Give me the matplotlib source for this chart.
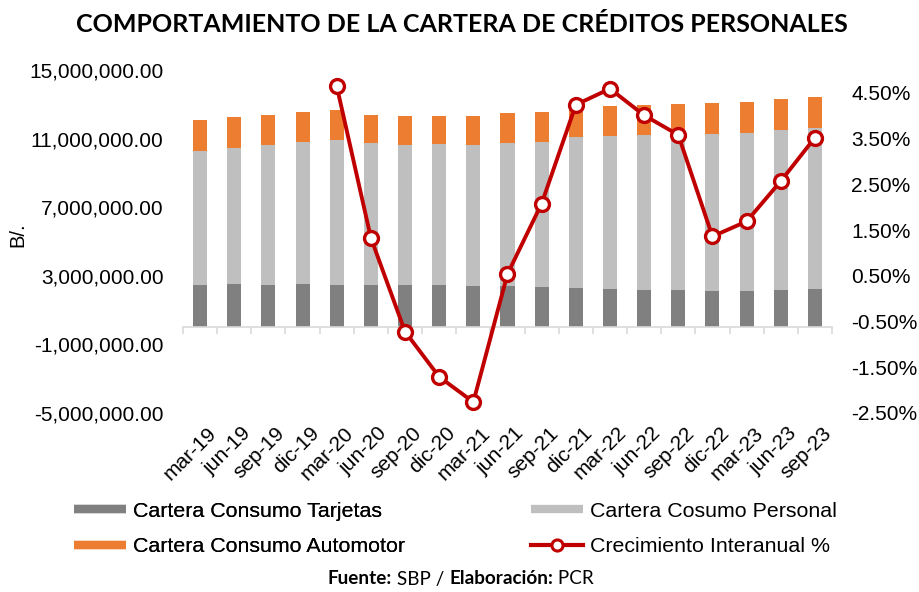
import numpy as np
import matplotlib
matplotlib.use("Agg")
import matplotlib.pyplot as plt
import matplotlib.transforms as mtransforms
from matplotlib.lines import Line2D

# datos (B/. y %)
periodos = ["mar-19", "jun-19", "sep-19", "dic-19", "mar-20", "jun-20", "sep-20", "dic-20",
            "mar-21", "jun-21", "sep-21", "dic-21", "mar-22", "jun-22", "sep-22", "dic-22",
            "mar-23", "jun-23", "sep-23"]
tarjetas = [2.46, 2.52, 2.46, 2.52, 2.46, 2.44, 2.44, 2.44, 2.40, 2.40, 2.35, 2.29,
            2.23, 2.17, 2.17, 2.13, 2.13, 2.17, 2.23]
total_personal = [10.30, 10.45, 10.63, 10.78, 10.92, 10.72, 10.63, 10.69, 10.63, 10.72, 10.82, 11.11,
                  11.15, 11.21, 11.23, 11.27, 11.35, 11.50, 11.64]
total_cartera = [12.08, 12.24, 12.38, 12.57, 12.67, 12.38, 12.32, 12.34, 12.34, 12.47, 12.57, 12.85,
                 12.90, 12.96, 13.02, 13.06, 13.13, 13.29, 13.44]
crecimiento = [np.nan, np.nan, np.nan, np.nan, 4.65, 1.33, -0.72, -1.71, -2.26, 0.54, 2.08, 4.24,
               4.59, 4.01, 3.58, 1.36, 1.69, 2.57, 3.52]

tarjetas = np.array(tarjetas) * 1e6
personal = np.array(total_personal) * 1e6 - tarjetas
automotor = (np.array(total_cartera) - np.array(total_personal)) * 1e6

c_tar = "#808080"
c_per = "#BFBFBF"
c_aut = "#ED7D31"
c_red = "#C00000"
arial = "Liberation Sans"

fig = plt.figure(figsize=(9.2, 5.92), dpi=100)
ax = fig.add_axes([183 / 920, 1 - 413 / 592, (832 - 183) / 920, (413 - 70) / 592])
x = np.arange(len(periodos))
w = 0.41
ax.bar(x, tarjetas, w, color=c_tar, zorder=2)
ax.bar(x, personal, w, bottom=tarjetas, color=c_per, zorder=2)
ax.bar(x, automotor, w, bottom=tarjetas + personal, color=c_aut, zorder=2)

ax.set_xlim(-0.5, len(periodos) - 0.5)
ax.set_ylim(-5e6, 15e6)
ax.set_yticks(np.arange(-5e6, 15e6 + 1, 4e6))
ax.set_yticklabels([f"{v:,.2f}" for v in np.arange(-5e6, 15e6 + 1, 4e6)],
                   fontsize=15, family=arial)
ax.tick_params(axis="y", length=0, pad=14)
for s in ["left", "right", "top"]:
    ax.spines[s].set_visible(False)
ax.spines["bottom"].set_position(("data", 0))
ax.spines["bottom"].set_color("#D9D9D9")
ax.spines["bottom"].set_linewidth(1.2)
ax.set_xticks(x)
ax.set_xticklabels([])
ax.tick_params(axis="x", which="major", length=0)
ax.set_xticks(np.arange(len(periodos) + 1) - 0.5, minor=True)
ax.tick_params(axis="x", which="minor", length=5, width=1.2, color="#D9D9D9", direction="out")
ax.set_ylabel("B/.", fontsize=14.5, family=arial)
ax.yaxis.set_label_coords(-0.24, 0.52)

trans = mtransforms.blended_transform_factory(ax.transData, ax.transAxes)
for i, p in enumerate(periodos):
    ax.text(i + 0.2, -0.03, p, transform=trans, rotation=45, ha="right", va="top",
            rotation_mode="anchor", fontsize=15, family=arial)

ax2 = ax.twinx()
ax2.plot(x, crecimiento, color=c_red, lw=2.8, marker="o", markersize=10,
         markerfacecolor="white", markeredgecolor=c_red, markeredgewidth=2.4, zorder=3)
ax2.set_ylim(-2.5, 5.0)
ax2.set_yticks(np.arange(-2.5, 4.6, 1.0))
ax2.set_yticklabels([f"{v:.2f}%" for v in np.arange(-2.5, 4.6, 1.0)], fontsize=15, family=arial)
ax2.tick_params(axis="y", length=0, pad=14)
for s in ax2.spines.values():
    s.set_visible(False)

fig.text(462 / 920, 1 - 25 / 592, "COMPORTAMIENTO DE LA CARTERA DE CRÉDITOS PERSONALES",
         ha="center", va="center", fontsize=18, fontweight="bold", family="Lato")

# leyenda en dos columnas
h1 = [Line2D([], [], color=c_tar, lw=6, solid_capstyle="butt"),
      Line2D([], [], color=c_aut, lw=6, solid_capstyle="butt")]
h2 = [Line2D([], [], color=c_per, lw=6, solid_capstyle="butt"),
      Line2D([], [], color=c_red, lw=3, marker="o", markersize=8, markerfacecolor="white",
             markeredgewidth=2.2)]
kw = dict(loc="center left", frameon=False, borderpad=0, borderaxespad=0, handlelength=2.45,
          handletextpad=0.3, labelspacing=0.78, prop={"family": arial, "size": 15.4})
leg1 = fig.legend(h1, ["Cartera Consumo Tarjetas", "Cartera Consumo Automotor"],
                  bbox_to_anchor=(74 / 920, 1 - 529 / 592), **kw)
fig.legend(h2, ["Cartera Cosumo Personal", "Crecimiento Interanual %"],
           bbox_to_anchor=(531 / 920, 1 - 529 / 592), **kw)
fig.add_artist(leg1)

# fuente
partes = [("Fuente:", "bold"), (" SBP / ", "normal"), ("Elaboración:", "bold"), (" PCR", "normal")]
renderer = fig.canvas.get_renderer()
ys = 1 - 579 / 592
textos = []
for txt, peso in partes:
    t = fig.text(0, ys, txt, fontsize=13.6, fontweight=peso, family="Lato", va="center")
    textos.append(t)
anchos = [t.get_window_extent(renderer).width for t in textos]
x0 = 461 - sum(anchos) / 2
for t, a in zip(textos, anchos):
    t.set_x(x0 / 920)
    x0 += a

fig.savefig("out.png", dpi=100)
